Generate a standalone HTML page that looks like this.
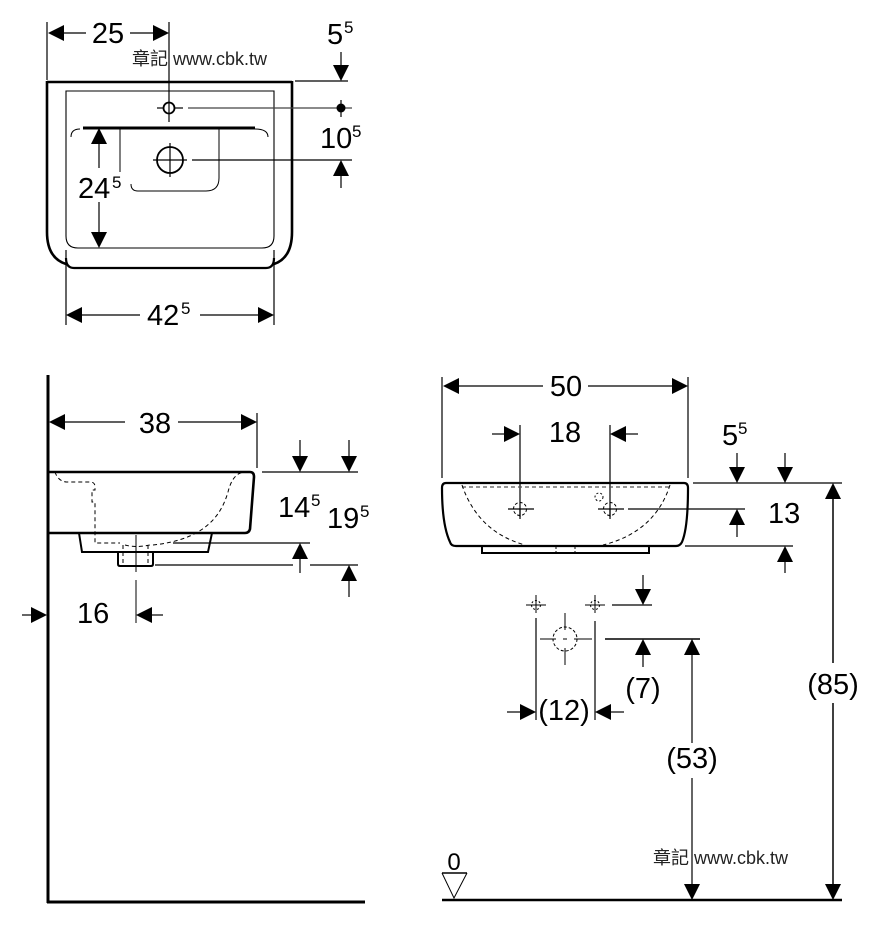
<!DOCTYPE html>
<html><head><meta charset="utf-8"><style>
html,body{margin:0;padding:0;background:#fff;}
svg{display:block;}
text{font-family:"Liberation Sans","Noto Sans CJK TC",sans-serif;fill:#000;}
</style></head><body>
<svg width="891" height="934" viewBox="0 0 891 934" xmlns="http://www.w3.org/2000/svg">
<rect width="891" height="934" fill="#fff"/>
<g stroke="#000" fill="none" stroke-width="1.2">
<!-- ===== TOP VIEW ===== -->
<line x1="47" y1="22" x2="47" y2="80"/>
<line x1="60" y1="33" x2="86" y2="33"/>
<line x1="130" y1="33" x2="156" y2="33"/>
<line x1="169" y1="22" x2="169" y2="122"/>
<path d="M47,82 H292 M47,81 V232 Q47,258 66,264 M292,81 V232 Q292,258 274,264" stroke-width="2.6"/>
<path d="M66,258 Q66,268 74,268 H266 Q274,268 274,258" stroke-width="2.2"/>
<path d="M66,91 H274 V236 Q274,248 262,248 H78 Q66,248 66,236 Z" stroke-width="1.1"/>
<circle cx="169" cy="108" r="5.5" stroke-width="1.8"/>
<line x1="157" y1="108" x2="164" y2="108"/>
<line x1="174" y1="108" x2="183" y2="108"/>
<line x1="188" y1="108" x2="352" y2="108" stroke="#444"/>
<line x1="341" y1="100" x2="341" y2="117"/>
<line x1="83" y1="128" x2="255" y2="128" stroke-width="3"/>
<path d="M71,137 Q71,129 80,129 M255,129 Q268,129 268,137" stroke-width="1"/>
<line x1="120" y1="128" x2="120" y2="172" stroke-width="1"/>
<path d="M219,128 V178 Q219,191 206,191 H138 Q131,191 131,184" stroke-width="1"/>
<circle cx="170" cy="160" r="13" stroke-width="1.8"/>
<line x1="170" y1="143" x2="170" y2="177"/>
<line x1="153" y1="160" x2="187" y2="160"/>
<line x1="192" y1="160" x2="352" y2="160"/>
<line x1="295" y1="81" x2="348" y2="81"/>
<line x1="341" y1="52" x2="341" y2="70"/>
<line x1="341" y1="170" x2="341" y2="188"/>
<line x1="99" y1="140" x2="99" y2="168"/>
<line x1="99" y1="202" x2="99" y2="236"/>
<line x1="66" y1="250" x2="66" y2="325"/>
<line x1="274" y1="250" x2="274" y2="325"/>
<line x1="78" y1="315" x2="140" y2="315"/>
<line x1="200" y1="315" x2="262" y2="315"/>

<!-- ===== SIDE VIEW ===== -->
<line x1="48" y1="375" x2="48" y2="903" stroke-width="3"/>
<line x1="47" y1="902" x2="365" y2="902" stroke-width="3"/>
<line x1="257" y1="413" x2="257" y2="468"/>
<line x1="62" y1="422" x2="125" y2="422"/>
<line x1="178" y1="422" x2="244" y2="422"/>
<path d="M48,472 H250 Q254,472 254,477 L250,529 Q249,533 245,533 H48" stroke-width="2.6"/>
<path d="M79,533 L82,552 H208 L212,533" stroke-width="2"/>
<path d="M118,552 V564 Q118,566 120,566 H151 Q153,566 153,564 V552" stroke-width="2"/>
<path d="M55,472 Q58,481 66,482 H90 Q95,482 95,487 V490 H92 V502 H95 V543 H120 M123,545 V565 M148,545 V565 M125,545 Q136,548 150,545 M153,545 C200,540 220,520 228,492 C231,480 236,473 244,472" stroke-width="1" stroke-dasharray="4,3"/>
<line x1="136" y1="535" x2="136" y2="572" stroke-width="1"/>
<line x1="136" y1="580" x2="136" y2="623" stroke-width="1"/>
<line x1="262" y1="472" x2="358" y2="472"/>
<line x1="173" y1="543" x2="310" y2="543"/>
<line x1="155" y1="565" x2="293" y2="565"/>
<line x1="310" y1="565" x2="358" y2="565"/>
<line x1="300" y1="440" x2="300" y2="460"/>
<line x1="349" y1="440" x2="349" y2="460"/>
<line x1="300" y1="555" x2="300" y2="573"/>
<line x1="349" y1="578" x2="349" y2="597"/>
<line x1="22" y1="615" x2="36" y2="615"/>
<line x1="148" y1="615" x2="163" y2="615"/>

<!-- ===== FRONT VIEW ===== -->
<line x1="442" y1="377" x2="442" y2="478"/>
<line x1="688" y1="377" x2="688" y2="478"/>
<line x1="455" y1="386" x2="543" y2="386"/>
<line x1="588" y1="386" x2="675" y2="386"/>
<line x1="520" y1="425" x2="520" y2="517"/>
<line x1="610" y1="425" x2="610" y2="517"/>
<line x1="492" y1="434" x2="507" y2="434"/>
<line x1="623" y1="434" x2="638" y2="434"/>
<path d="M446,483 H684 Q688,483 688,488 Q688,528 682,542 Q680,546 676,546 H456 Q451,546 450,542 Q442,525 442,488 Q442,483 446,483 Z" stroke-width="2.2"/>
<rect x="482" y="546" width="167" height="7" stroke-width="2"/>
<line x1="556" y1="547" x2="556" y2="553" stroke-width="1" stroke-dasharray="2,2"/>
<line x1="575" y1="547" x2="575" y2="553" stroke-width="1" stroke-dasharray="2,2"/>
<line x1="462" y1="487" x2="670" y2="487" stroke="#555" stroke-width="1.2" stroke-dasharray="4,3"/>
<path d="M462,485 Q478,532 525,545 M670,485 Q655,532 603,545" stroke-width="1" stroke-dasharray="4,3"/>
<circle cx="520" cy="509" r="6.5" stroke-width="1" stroke-dasharray="3,2"/>
<circle cx="610" cy="509" r="6.5" stroke-width="1" stroke-dasharray="3,2"/>
<circle cx="599" cy="497" r="4" stroke-width="1" stroke-dasharray="2,2"/>
<line x1="508" y1="509" x2="534" y2="509"/>
<line x1="598" y1="509" x2="624" y2="509"/>
<line x1="610" y1="509" x2="610" y2="519"/>
<line x1="520" y1="509" x2="520" y2="519"/>
<line x1="628" y1="509" x2="745" y2="509"/>
<line x1="693" y1="483" x2="842" y2="483"/>
<line x1="685" y1="546" x2="793" y2="546"/>
<line x1="737" y1="453" x2="737" y2="470"/>
<line x1="785" y1="453" x2="785" y2="470"/>
<line x1="737" y1="522" x2="737" y2="537"/>
<line x1="785" y1="559" x2="785" y2="573"/>
<line x1="833" y1="496" x2="833" y2="663" stroke-width="1.5"/>
<line x1="833" y1="703" x2="833" y2="887" stroke-width="1.5"/>
<!-- lower front -->
<circle cx="536" cy="605" r="4.5" stroke-width="1" stroke-dasharray="2,2"/>
<circle cx="595" cy="605" r="4.5" stroke-width="1" stroke-dasharray="2,2"/>
<line x1="526" y1="605" x2="546" y2="605" stroke-width="1"/>
<line x1="585" y1="605" x2="605" y2="605" stroke-width="1"/>
<line x1="536" y1="595" x2="536" y2="613" stroke-width="1"/>
<line x1="595" y1="595" x2="595" y2="613" stroke-width="1"/>
<line x1="536" y1="618" x2="536" y2="720"/>
<line x1="595" y1="621" x2="595" y2="720"/>
<circle cx="565" cy="639" r="12" stroke-width="1" stroke-dasharray="3,2"/>
<line x1="565" y1="613" x2="565" y2="630" stroke-width="1"/>
<line x1="565" y1="648" x2="565" y2="665" stroke-width="1"/>
<line x1="540" y1="639" x2="556" y2="639" stroke-width="1"/>
<line x1="574" y1="639" x2="592" y2="639" stroke-width="1"/>
<line x1="563" y1="639" x2="567" y2="639" stroke-width="1"/>
<line x1="612" y1="605" x2="652" y2="605"/>
<line x1="643" y1="575" x2="643" y2="592"/>
<line x1="605" y1="639" x2="700" y2="639" stroke-width="1.5"/>
<line x1="643" y1="652" x2="643" y2="667"/>
<line x1="692" y1="652" x2="692" y2="743"/>
<line x1="692" y1="778" x2="692" y2="887"/>
<line x1="507" y1="712" x2="522" y2="712"/>
<line x1="609" y1="712" x2="624" y2="712"/>
<line x1="442" y1="900" x2="842" y2="900" stroke-width="2.6"/>
<line x1="442" y1="873" x2="467" y2="873" stroke-width="1.5"/>
<path d="M442,873 L454,898 L467,873" stroke-width="1"/>
</g>

<!-- arrowheads -->
<g fill="#000" stroke="none">
<!-- top view -->
<polygon points="48,33 64,25 64,41"/>
<polygon points="169,33 153,25 153,41"/>
<polygon points="341,81 333,65 349,65"/>
<circle cx="341" cy="108" r="4.5"/>
<polygon points="341,160 333,176 349,176"/>
<polygon points="99,128 91,144 107,144"/>
<polygon points="99,248 91,232 107,232"/>
<polygon points="66,315 82,307 82,323"/>
<polygon points="274,315 258,307 258,323"/>
<!-- side view -->
<polygon points="49,422 65,414 65,430"/>
<polygon points="257,422 241,414 241,430"/>
<polygon points="300,472 292,456 308,456"/>
<polygon points="349,472 341,456 357,456"/>
<polygon points="300,543 292,559 308,559"/>
<polygon points="349,565 341,581 357,581"/>
<polygon points="47,615 31,607 31,623"/>
<polygon points="136,615 152,607 152,623"/>
<!-- front view -->
<polygon points="443,386 459,378 459,394"/>
<polygon points="688,386 672,378 672,394"/>
<polygon points="520,434 504,426 504,442"/>
<polygon points="610,434 626,426 626,442"/>
<polygon points="737,483 729,467 745,467"/>
<polygon points="785,483 777,467 793,467"/>
<polygon points="737,509 729,525 745,525"/>
<polygon points="785,546 777,562 793,562"/>
<polygon points="833,483 825,499 841,499"/>
<polygon points="833,900 825,884 841,884"/>
<polygon points="643,605 635,589 651,589"/>
<polygon points="643,639 635,655 651,655"/>
<polygon points="692,639 684,655 700,655"/>
<polygon points="692,900 684,884 700,884"/>
<polygon points="536,712 520,704 520,720"/>
<polygon points="595,712 611,704 611,720"/>
</g>

<!-- labels -->
<g font-size="29">
<text x="108" y="43" text-anchor="middle">25</text>
<text x="327" y="44">5</text><text x="344" y="33" font-size="17">5</text>
<text x="320" y="148">10</text><text x="352" y="137" font-size="17">5</text>
<text x="78" y="198">24</text><text x="112" y="188" font-size="17">5</text>
<text x="147" y="325">42</text><text x="181" y="314" font-size="17">5</text>
<text x="155" y="433" text-anchor="middle">38</text>
<text x="278" y="517">14</text><text x="311" y="506" font-size="17">5</text>
<text x="327" y="528">19</text><text x="360" y="517" font-size="17">5</text>
<text x="77" y="623">16</text>
<text x="566" y="396" text-anchor="middle">50</text>
<text x="565" y="442" text-anchor="middle">18</text>
<text x="722" y="445">5</text><text x="738" y="434" font-size="17">5</text>
<text x="768" y="523">13</text>
<text x="643" y="698" text-anchor="middle">(7)</text>
<text x="564" y="720" text-anchor="middle">(12)</text>
<text x="833" y="694" text-anchor="middle">(85)</text>
<text x="692" y="768" text-anchor="middle">(53)</text>
<text x="454" y="870" text-anchor="middle" font-size="24">0</text>
</g>
<g font-size="18">
<text x="132" y="65" style="fill:#222">章記 www.cbk.tw</text>
<text x="653" y="864" style="fill:#222">章記 www.cbk.tw</text>
</g>
</svg>
</body></html>
